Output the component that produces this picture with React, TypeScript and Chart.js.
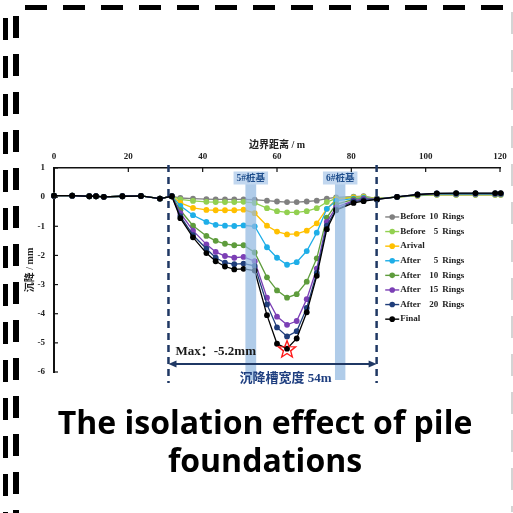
import React, { useEffect, useRef } from "react";
import { Chart, registerables } from "chart.js";

Chart.register(...registerables);

// Distance along the boundary (m)
const DIST = [0, 4.9, 9.5, 11.3, 13.4, 18.4, 23.4, 28.5, 31.7, 34, 37.4, 41, 43.5, 46, 48.5, 51, 54, 57.3, 60, 62.7, 65.3, 68, 70.7, 73.4, 75.9, 80.6, 83.3, 86.9, 92.3, 97.8, 103, 108.2, 113.4, 118.7, 120.2];

// Settlement (mm) for each excavation stage
const BEFORE_10 = [0.05, 0.05, 0.03, 0.03, 0.01, 0.03, 0.04, -0.05, 0.03, -0.03, -0.05, -0.07, -0.08, -0.08, -0.08, -0.08, -0.09, -0.12, -0.15, -0.17, -0.17, -0.15, -0.12, -0.05, -0.01, 0.02, 0.03, -0.05, 0.0, 0.05, 0.08, 0.08, 0.08, 0.08, 0.08];
const BEFORE_5 = [0.05, 0.05, 0.03, 0.03, 0.01, 0.03, 0.04, -0.05, 0.03, -0.08, -0.13, -0.16, -0.17, -0.17, -0.17, -0.16, -0.2, -0.38, -0.48, -0.52, -0.52, -0.48, -0.38, -0.17, -0.04, 0.0, 0.02, -0.05, 0.0, 0.05, 0.08, 0.08, 0.08, 0.08, 0.08];
const ARIVAL = [0.05, 0.05, 0.03, 0.03, 0.01, 0.03, 0.04, -0.05, 0.03, -0.2, -0.37, -0.44, -0.45, -0.45, -0.45, -0.43, -0.55, -0.98, -1.18, -1.28, -1.26, -1.15, -0.9, -0.4, -0.08, -0.02, 0.0, -0.05, 0.01, 0.06, 0.09, 0.09, 0.09, 0.09, 0.09];
const AFTER_5 = [0.05, 0.05, 0.03, 0.03, 0.01, 0.03, 0.04, -0.05, 0.03, -0.3, -0.62, -0.85, -0.95, -0.98, -0.99, -0.97, -1.0, -1.72, -2.08, -2.32, -2.23, -1.85, -1.22, -0.4, -0.12, -0.05, -0.02, -0.06, 0.01, 0.07, 0.1, 0.1, 0.1, 0.1, 0.1];
const AFTER_10 = [0.05, 0.05, 0.03, 0.03, 0.01, 0.03, 0.04, -0.05, 0.03, -0.45, -0.98, -1.33, -1.5, -1.6, -1.65, -1.65, -1.9, -2.75, -3.2, -3.45, -3.33, -2.9, -2.1, -0.7, -0.25, -0.08, -0.04, -0.06, 0.01, 0.07, 0.11, 0.11, 0.11, 0.11, 0.11];
const AFTER_15 = [0.05, 0.05, 0.03, 0.03, 0.01, 0.03, 0.04, -0.05, 0.03, -0.55, -1.15, -1.62, -1.88, -2.02, -2.08, -2.05, -2.2, -3.45, -4.1, -4.38, -4.25, -3.5, -2.45, -0.85, -0.35, -0.12, -0.06, -0.07, 0.01, 0.08, 0.12, 0.12, 0.12, 0.12, 0.12];
const AFTER_20 = [0.05, 0.05, 0.03, 0.03, 0.01, 0.03, 0.04, -0.05, 0.03, -0.65, -1.3, -1.77, -2.08, -2.25, -2.3, -2.28, -2.36, -3.68, -4.47, -4.78, -4.6, -3.8, -2.6, -0.98, -0.42, -0.15, -0.1, -0.08, 0.01, 0.09, 0.13, 0.13, 0.13, 0.13, 0.13];
const FINAL = [0.05, 0.05, 0.03, 0.03, 0.01, 0.03, 0.04, -0.05, 0.03, -0.72, -1.38, -1.92, -2.2, -2.38, -2.48, -2.46, -2.52, -4.05, -5.03, -5.2, -4.85, -3.95, -2.7, -1.1, -0.45, -0.2, -0.14, -0.08, 0.01, 0.09, 0.13, 0.14, 0.14, 0.14, 0.14];

const SERIES_LABELS = [
  ["Before", "10", "Rings"],
  ["Before", "5", "Rings"],
  ["Arival", "", ""],
  ["After", "5", "Rings"],
  ["After", "10", "Rings"],
  ["After", "15", "Rings"],
  ["After", "20", "Rings"],
  ["Final", "", ""],
];
const SERIES_VALUES = [BEFORE_10, BEFORE_5, ARIVAL, AFTER_5, AFTER_10, AFTER_15, AFTER_20, FINAL];
const SERIES_COLORS = ["#808080", "#92d050", "#ffc000", "#1eaee8", "#5e9c3c", "#7b3fb5", "#1f3d7a", "#000000"];

// Pile foundations (start, end in m) and their names
const PILE_RANGES = [
  [51.5, 54.4],
  [75.6, 78.4],
];
const PILE_NAMES = ["5#桩基", "6#桩基"];

// Settlement trough limits (m)
const TROUGH = [30.8, 86.8];
const TROUGH_LABEL = "沉降槽宽度 54m";
const X_TICKS = { min: 0, max: 120, step: 20 };
const Y_TICKS = { min: -6, max: 1, step: 1 };

const SERIF = "'Liberation Serif', 'Times New Roman', 'Noto Sans CJK SC', serif";
const NAVY = "#1f3864";

function starPath(ctx: CanvasRenderingContext2D, cx: number, cy: number, ro: number, ri: number) {
  ctx.beginPath();
  for (let i = 0; i < 10; i++) {
    const r = i % 2 === 0 ? ro : ri;
    const a = -Math.PI / 2 + (i * Math.PI) / 5;
    const px = cx + r * Math.cos(a);
    const py = cy + r * Math.sin(a);
    if (i === 0) ctx.moveTo(px, py);
    else ctx.lineTo(px, py);
  }
  ctx.closePath();
}

const decorations = {
  id: "decorations",
  afterDatasetsDraw(chart: any) {
    const { ctx, chartArea, scales } = chart;
    const x = scales.x;
    const y = scales.y;
    ctx.save();

    // translucent pile bands over the curves
    ctx.fillStyle = "rgba(146,184,224,0.72)";
    const bandTop = chartArea.top + 5;
    const bandBottom = chartArea.bottom + 8;
    PILE_RANGES.forEach(([a, b]) => {
      const x0 = x.getPixelForValue(a);
      const x1 = x.getPixelForValue(b);
      ctx.fillRect(x0, bandTop, x1 - x0, bandBottom - bandTop);
    });

    // pile labels
    ctx.font = `bold 9.5px ${SERIF}`;
    ctx.textAlign = "center";
    ctx.textBaseline = "middle";
    PILE_RANGES.forEach(([a, b], i) => {
      const cx = (x.getPixelForValue(a) + x.getPixelForValue(b)) / 2;
      const cy = chartArea.top + 10;
      const w = ctx.measureText(PILE_NAMES[i]).width + 6;
      ctx.fillStyle = "#c2d7ef";
      ctx.fillRect(cx - w / 2, cy - 6.5, w, 13);
      ctx.fillStyle = "#1f4e8c";
      ctx.fillText(PILE_NAMES[i], cx, cy + 0.5);
    });

    // trough limits
    ctx.strokeStyle = NAVY;
    ctx.lineWidth = 2.5;
    ctx.setLineDash([7, 5]);
    TROUGH.forEach((v) => {
      const px = x.getPixelForValue(v);
      ctx.beginPath();
      ctx.moveTo(px, chartArea.top - 3);
      ctx.lineTo(px, chartArea.bottom + 11);
      ctx.stroke();
    });
    ctx.setLineDash([]);

    // width arrow
    const xl = x.getPixelForValue(TROUGH[0]);
    const xr = x.getPixelForValue(TROUGH[1]);
    const ay = chartArea.bottom - 8;
    ctx.lineWidth = 2.2;
    ctx.beginPath();
    ctx.moveTo(xl + 6, ay);
    ctx.lineTo(xr - 6, ay);
    ctx.stroke();
    ctx.fillStyle = NAVY;
    ctx.beginPath();
    ctx.moveTo(xl, ay);
    ctx.lineTo(xl + 8, ay - 3.5);
    ctx.lineTo(xl + 8, ay + 3.5);
    ctx.closePath();
    ctx.fill();
    ctx.beginPath();
    ctx.moveTo(xr, ay);
    ctx.lineTo(xr - 8, ay - 3.5);
    ctx.lineTo(xr - 8, ay + 3.5);
    ctx.closePath();
    ctx.fill();

    ctx.font = `bold 13px ${SERIF}`;
    ctx.textAlign = "center";
    ctx.fillStyle = "#1f3f80";
    ctx.fillText(TROUGH_LABEL, (xl + xr) / 2 + 13, chartArea.bottom + 7);

    // maximum settlement marker
    let minIdx = 0;
    FINAL.forEach((v, i) => {
      if (v < FINAL[minIdx]) minIdx = i;
    });
    const sx = x.getPixelForValue(DIST[minIdx]);
    const sy = y.getPixelForValue(FINAL[minIdx]);
    ctx.strokeStyle = "#ff1a1a";
    ctx.lineWidth = 1.4;
    starPath(ctx, sx, sy + 1, 9, 3.8);
    ctx.stroke();

    ctx.font = `bold 13px ${SERIF}`;
    ctx.textAlign = "left";
    ctx.fillStyle = "#1a1a1a";
    ctx.fillText(`Max：${FINAL[minIdx].toFixed(1)}mm`, xl + 7, chartArea.bottom - 20);

    // inward tick marks
    ctx.strokeStyle = "#111";
    ctx.lineWidth = 1.2;
    x.ticks.forEach((t: any) => {
      const px = x.getPixelForValue(t.value);
      ctx.beginPath();
      ctx.moveTo(px, chartArea.top);
      ctx.lineTo(px, chartArea.top + 4);
      ctx.stroke();
    });
    y.ticks.forEach((t: any) => {
      const py = y.getPixelForValue(t.value);
      ctx.beginPath();
      ctx.moveTo(chartArea.left, py);
      ctx.lineTo(chartArea.left + 4, py);
      ctx.stroke();
    });

    // legend
    const lx = x.getPixelForValue(91);
    const ly0 = y.getPixelForValue(-0.68);
    const step = 14.6;
    chart.data.datasets.forEach((ds: any, i: number) => {
      const yy = ly0 + i * step;
      ctx.strokeStyle = ds.borderColor;
      ctx.fillStyle = ds.borderColor;
      ctx.lineWidth = 1.4;
      ctx.beginPath();
      ctx.moveTo(lx - 7, yy);
      ctx.lineTo(lx + 7, yy);
      ctx.stroke();
      ctx.beginPath();
      ctx.arc(lx, yy, 2.8, 0, Math.PI * 2);
      ctx.fill();
      const [head, num, tail] = SERIES_LABELS[i];
      ctx.fillStyle = "#222";
      ctx.font = `bold 9px ${SERIF}`;
      ctx.textBaseline = "middle";
      ctx.textAlign = "left";
      ctx.fillText(head, lx + 8, yy);
      if (num) {
        ctx.textAlign = "right";
        ctx.fillText(num, lx + 46, yy);
        ctx.textAlign = "left";
        ctx.fillText(tail, lx + 50, yy);
      }
    });

    ctx.restore();
  },
};

function SettlementChart() {
  const ref = useRef<HTMLCanvasElement | null>(null);

  useEffect(() => {
    if (!ref.current) return;
    const datasets = SERIES_VALUES.map((vals, i) => ({
      label: SERIES_LABELS[i].filter(Boolean).join(" "),
      data: DIST.map((d, j) => ({ x: d, y: vals[j] })),
      borderColor: SERIES_COLORS[i],
      backgroundColor: SERIES_COLORS[i],
      pointBackgroundColor: SERIES_COLORS[i],
      pointBorderColor: SERIES_COLORS[i],
      pointRadius: 2.9,
      pointBorderWidth: 0,
      borderWidth: 1.3,
      tension: 0,
      clip: false as any,
      order: SERIES_VALUES.length - 1 - i,
    }));

    const tickFont = { family: SERIF, size: 9, weight: "bold" as const };

    const chart = new Chart(ref.current, {
      type: "line",
      data: { datasets },
      options: {
        animation: false,
        responsive: false,
        devicePixelRatio: 1,
        layout: { padding: { left: 0, right: 13, top: 130, bottom: 141 } },
        plugins: { legend: { display: false }, tooltip: { enabled: false } },
        scales: {
          x: {
            type: "linear",
            position: "top",
            min: X_TICKS.min,
            max: X_TICKS.max,
            ticks: { stepSize: X_TICKS.step, font: tickFont, color: "#222", padding: 6, maxRotation: 0 },
            grid: { display: false, drawTicks: false },
            border: { display: true, color: "#111", width: 1.5 },
            title: {
              display: true,
              text: "边界距离 / m",
              color: "#222",
              font: { family: SERIF, size: 10, weight: "bold" },
              padding: { top: 9, bottom: 0 },
            },
            afterFit: (s: any) => {
              s.height = 38;
            },
          },
          y: {
            type: "linear",
            min: Y_TICKS.min,
            max: Y_TICKS.max,
            ticks: { stepSize: Y_TICKS.step, font: tickFont, color: "#222", padding: 9 },
            grid: { display: false, drawTicks: false },
            border: { display: true, color: "#111", width: 2 },
            title: {
              display: true,
              text: "沉降 / mm",
              color: "#222",
              font: { family: SERIF, size: 10, weight: "bold" },
              padding: { top: 24, bottom: 0 },
            },
            afterFit: (s: any) => {
              s.width = 54;
            },
          },
        },
      },
      plugins: [decorations],
    });
    return () => chart.destroy();
  }, []);

  return <canvas ref={ref} width={513} height={513} style={{ position: "absolute", left: 0, top: 0, width: 513, height: 513 }} />;
}

const dashH = (color: string) => `repeating-linear-gradient(to right, ${color} 0 22px, transparent 22px 38px)`;
const dashV = (color: string) => `repeating-linear-gradient(to bottom, ${color} 0 22px, transparent 22px 38px)`;

export default function App() {
  return (
    <div style={{ position: "fixed", left: 0, top: 0, width: 513, height: 513, background: "#fff", overflow: "hidden" }}>
      <div style={{ position: "absolute", left: 25, top: 5, width: 480, height: 5, background: dashH("#000") }} />
      <div style={{ position: "absolute", left: 3, top: 18, width: 5, height: 500, background: dashV("#000") }} />
      <div style={{ position: "absolute", left: 13, top: 16, width: 6, height: 500, background: dashV("#000") }} />
      <div style={{ position: "absolute", left: 511, top: 12, width: 2, height: 500, background: dashV("#d4d4d4") }} />
      <SettlementChart />
      <div
        style={{
          position: "absolute",
          left: 0,
          top: 403,
          width: 530,
          textAlign: "center",
          fontFamily: "'Open Sans', 'Noto Sans', sans-serif",
          fontWeight: 700,
          fontSize: 32,
          lineHeight: "38px",
          color: "#000",
          whiteSpace: "nowrap",
        }}
      >
        The isolation effect of pile
        <br />
        foundations
      </div>
    </div>
  );
}
